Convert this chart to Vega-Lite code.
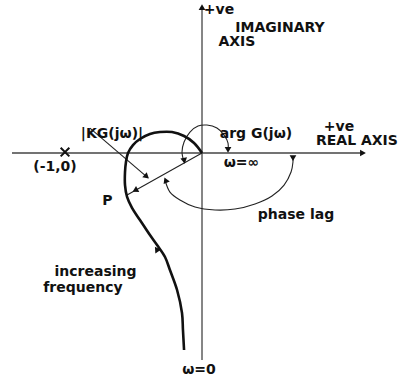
{
  "$schema": "https://vega.github.io/schema/vega-lite/v6.json",
  "width": 419,
  "height": 383,
  "autosize": {"type": "fit", "contains": "padding"},
  "padding": 0,
  "background": "white",
  "config": {"view": {"stroke": null}},
  "datasets": {
    "axes": [
      {"axis": "real", "i": 0, "re": -1.387, "im": 0},
      {"axis": "real", "i": 1, "re": 1.168, "im": 0},
      {"axis": "imag", "i": 0, "re": 0, "im": -1.511},
      {"axis": "imag", "i": 1, "re": 0, "im": 1.058}
    ],
    "locus": [
      {"i": 0, "re": -0.131, "im": -1.438},
      {"i": 1, "re": -0.139, "im": -1.292},
      {"i": 2, "re": -0.146, "im": -1.168},
      {"i": 3, "re": -0.182, "im": -1.0},
      {"i": 4, "re": -0.234, "im": -0.854},
      {"i": 5, "re": -0.27, "im": -0.759},
      {"i": 6, "re": -0.328, "im": -0.672},
      {"i": 7, "re": -0.38, "im": -0.599},
      {"i": 8, "re": -0.453, "im": -0.489},
      {"i": 9, "re": -0.511, "im": -0.401},
      {"i": 10, "re": -0.547, "im": -0.321},
      {"i": 11, "re": -0.562, "im": -0.234},
      {"i": 12, "re": -0.562, "im": -0.139},
      {"i": 13, "re": -0.555, "im": -0.066},
      {"i": 14, "re": -0.54, "im": 0},
      {"i": 15, "re": -0.504, "im": 0.058},
      {"i": 16, "re": -0.453, "im": 0.102},
      {"i": 17, "re": -0.38, "im": 0.139},
      {"i": 18, "re": -0.307, "im": 0.153},
      {"i": 19, "re": -0.219, "im": 0.153},
      {"i": 20, "re": -0.131, "im": 0.124},
      {"i": 21, "re": -0.058, "im": 0.073},
      {"i": 22, "re": 0, "im": 0}
    ],
    "guides": [
      {"g": "ray", "i": 0, "re": 0, "im": 0},
      {"g": "ray", "i": 1, "re": -0.547, "im": -0.307},
      {"g": "leader", "i": 0, "re": -0.818, "im": 0.182},
      {"g": "leader", "i": 1, "re": -0.394, "im": -0.182},
      {"g": "lag", "i": 0, "re": -0.27, "im": -0.197},
      {"g": "lag", "i": 1, "re": -0.234, "im": -0.285},
      {"g": "lag", "i": 2, "re": -0.161, "im": -0.343},
      {"g": "lag", "i": 3, "re": -0.051, "im": -0.394},
      {"g": "lag", "i": 4, "re": 0.095, "im": -0.416},
      {"g": "lag", "i": 5, "re": 0.241, "im": -0.409},
      {"g": "lag", "i": 6, "re": 0.387, "im": -0.372},
      {"g": "lag", "i": 7, "re": 0.511, "im": -0.314},
      {"g": "lag", "i": 8, "re": 0.599, "im": -0.234},
      {"g": "lag", "i": 9, "re": 0.65, "im": -0.139},
      {"g": "lag", "i": 10, "re": 0.664, "im": -0.066},
      {"g": "lag", "i": 11, "re": 0.664, "im": -0.022},
      {"g": "arg", "i": 0, "re": -0.131, "im": -0.066},
      {"g": "arg", "i": 1, "re": -0.146, "im": 0.007},
      {"g": "arg", "i": 2, "re": -0.131, "im": 0.08},
      {"g": "arg", "i": 3, "re": -0.088, "im": 0.153},
      {"g": "arg", "i": 4, "re": -0.029, "im": 0.197},
      {"g": "arg", "i": 5, "re": 0.036, "im": 0.204},
      {"g": "arg", "i": 6, "re": 0.109, "im": 0.182},
      {"g": "arg", "i": 7, "re": 0.161, "im": 0.131},
      {"g": "arg", "i": 8, "re": 0.19, "im": 0.073},
      {"g": "arg", "i": 9, "re": 0.19, "im": 0.022}
    ],
    "heads": [
      {"re": 1.168, "im": 0, "dir": 90},
      {"re": 0, "im": 1.058, "dir": 0},
      {"re": -0.482, "im": -0.27, "dir": 241},
      {"re": -0.409, "im": -0.168, "dir": 131},
      {"re": -0.263, "im": -0.204, "dir": 337},
      {"re": 0.664, "im": -0.03, "dir": 180},
      {"re": 0.19, "im": 0.03, "dir": 180},
      {"re": -0.131, "im": -0.05, "dir": 170},
      {"re": -0.328, "im": -0.708, "dir": 326}
    ],
    "marker": [{"re": -1.0, "im": 0.007}],
    "labels": [
      {"t": "+ve", "re": 0.124, "im": 1.044},
      {"t": "IMAGINARY", "re": 0.569, "im": 0.909},
      {"t": "AXIS", "re": 0.255, "im": 0.807},
      {"t": "|KG(jω)|", "re": -0.657, "im": 0.139},
      {"t": "arg G(jω)", "re": 0.394, "im": 0.139},
      {"t": "+ve", "re": 1.0, "im": 0.19},
      {"t": "REAL AXIS", "re": 1.131, "im": 0.084},
      {"t": "(-1,0)", "re": -1.073, "im": -0.102},
      {"t": "ω=∞", "re": 0.288, "im": -0.073},
      {"t": "P", "re": -0.69, "im": -0.35},
      {"t": "phase lag", "re": 0.686, "im": -0.453},
      {"t": "increasing", "re": -0.777, "im": -0.869},
      {"t": "frequency", "re": -0.869, "im": -0.985},
      {"t": "ω=0", "re": -0.022, "im": -1.584}
    ]
  },
  "encoding": {
    "x": {"field": "re", "type": "quantitative", "axis": null,
          "scale": {"domain": [-1.4745, 1.5839], "nice": false, "zero": false}},
    "y": {"field": "im", "type": "quantitative", "axis": null,
          "scale": {"domain": [-1.6788, 1.1168], "nice": false, "zero": false}}
  },
  "layer": [
    {
      "data": {"name": "axes"},
      "mark": {"type": "line", "color": "#444", "strokeWidth": 1.3},
      "encoding": {"detail": {"field": "axis"}, "order": {"field": "i"}}
    },
    {
      "data": {"name": "guides"},
      "mark": {"type": "line", "color": "#222", "strokeWidth": 1.1, "interpolate": "catmull-rom"},
      "encoding": {"detail": {"field": "g"}, "order": {"field": "i"}}
    },
    {
      "data": {"name": "locus"},
      "mark": {"type": "line", "color": "#111", "strokeWidth": 2.6, "interpolate": "catmull-rom"},
      "encoding": {"order": {"field": "i"}}
    },
    {
      "data": {"name": "heads"},
      "mark": {"type": "point", "shape": "triangle", "filled": true, "color": "#111", "size": 45, "opacity": 1},
      "encoding": {"angle": {"field": "dir", "type": "quantitative", "scale": null}}
    },
    {
      "data": {"name": "marker"},
      "mark": {"type": "point", "shape": "M-1,-1L1,1M1,-1L-1,1", "filled": false, "stroke": "#111", "strokeWidth": 2, "size": 75, "opacity": 1}
    },
    {
      "data": {"name": "labels"},
      "mark": {"type": "text", "align": "center", "baseline": "middle", "font": "DejaVu Sans", "fontSize": 14, "fontWeight": "bold", "color": "#111"},
      "encoding": {"text": {"field": "t"}}
    }
  ]
}
